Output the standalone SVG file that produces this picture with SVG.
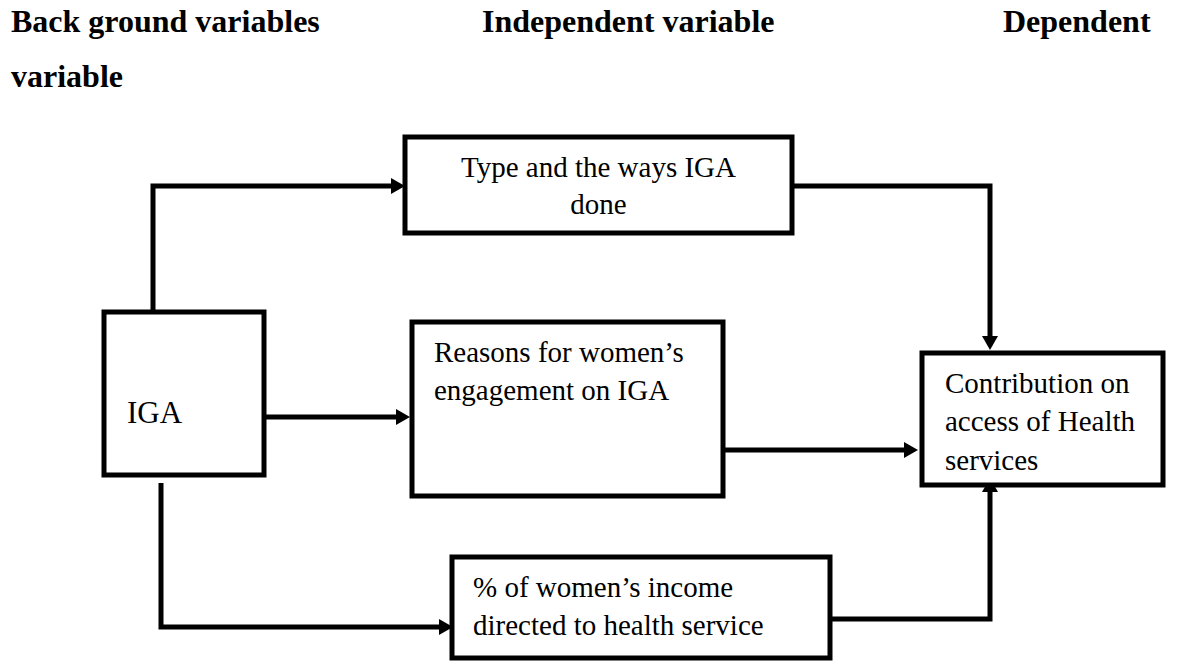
<svg xmlns="http://www.w3.org/2000/svg" width="1184" height="662" viewBox="0 0 1184 662">
<style>
.box{fill:#fff;stroke:#000;stroke-width:5;stroke-linejoin:miter}
.t{font-family:"Liberation Serif","Times New Roman",serif;font-size:29px;fill:#000}
.h{font-family:"Liberation Serif","Times New Roman",serif;font-size:32px;font-weight:bold;fill:#000}
.c{fill:none;stroke:#000;stroke-width:5;stroke-linejoin:miter;marker-end:url(#arr)}
.p{fill:none;stroke:#000;stroke-width:5;stroke-linejoin:miter}
</style>
<defs>
<marker id="arr" viewBox="0 0 14 16" refX="6" refY="8" markerWidth="14" markerHeight="16" markerUnits="userSpaceOnUse" orient="auto">
<path d="M0,0 L14,8 L0,16 z" fill="#000"/>
</marker>
</defs>
<rect width="1184" height="662" fill="#fff"/>
<g id="headers">
<text class="h" x="11" y="32">Back ground variables</text>
<text class="h" x="11" y="87">variable</text>
<text class="h" x="482" y="32">Independent variable</text>
<text class="h" x="1003" y="32">Dependent</text>
</g>
<g id="connectors">
<path class="c" d="M153,312 V186 H397"/>
<path class="c" d="M253,417 H402"/>
<path class="c" d="M161,483 V627 H445"/>
<path class="c" d="M792,186 H990 V342"/>
<path class="c" d="M723,450 H910"/>
<path class="c" d="M830,619 H990 V486"/>
</g>
<g id="node-iga">
<rect class="box" x="104" y="312" width="160" height="163"/>
<text class="t" x="127" y="423" style="font-size:31px">IGA</text>
</g>
<g id="node-type">
<rect class="box" x="405" y="137" width="387" height="96"/>
<text class="t" x="598.5" y="177" text-anchor="middle">Type and the ways IGA</text>
<text class="t" x="598.5" y="214" text-anchor="middle">done</text>
</g>
<g id="node-reasons">
<rect class="box" x="412" y="322" width="311" height="174"/>
<text class="t" x="434" y="362">Reasons for women’s</text>
<text class="t" x="434" y="400">engagement on IGA</text>
</g>
<g id="node-income">
<rect class="box" x="452" y="557" width="378" height="101"/>
<text class="t" x="473" y="597">% of women’s income</text>
<text class="t" x="473" y="635">directed to health service</text>
</g>
<g id="node-contribution">
<rect class="box" x="922" y="353" width="241" height="132"/>
<text class="t" x="945" y="393">Contribution on</text>
<text class="t" x="945" y="431">access of Health</text>
<text class="t" x="945" y="470">services</text>
</g>
</svg>
